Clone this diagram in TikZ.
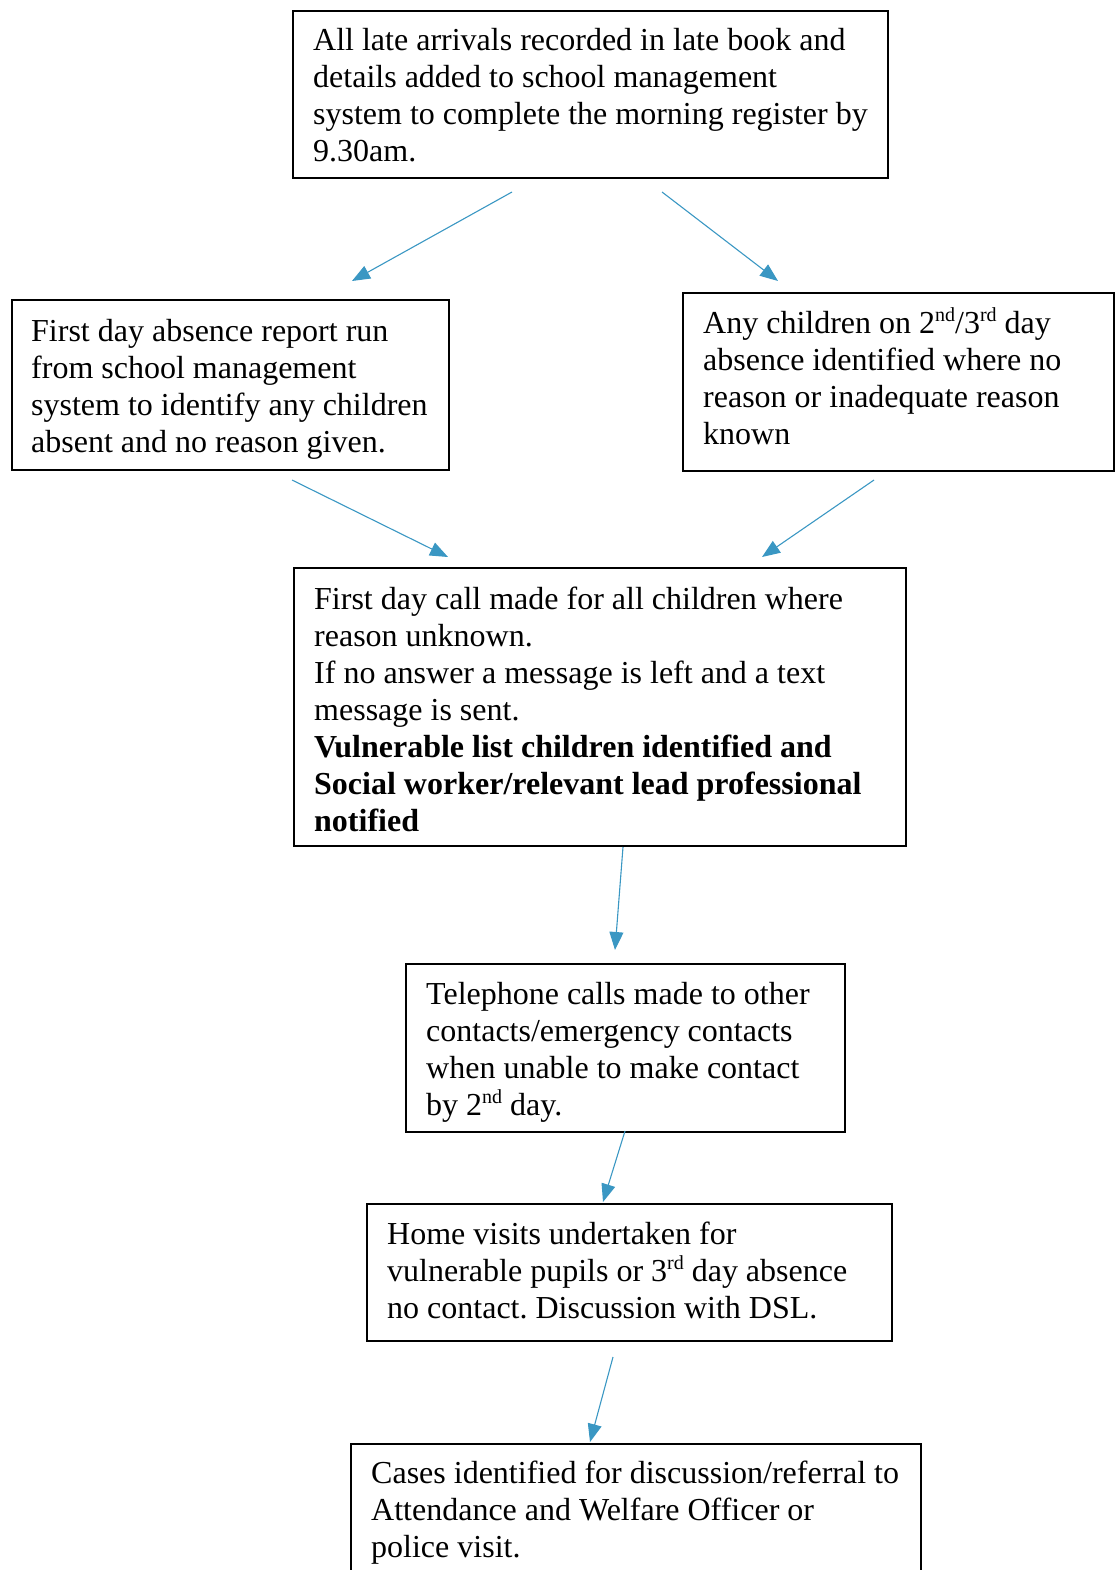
\documentclass[tikz,border=0pt]{standalone}
\usepackage{fontspec}
\setmainfont{Liberation Serif}
\usetikzlibrary{arrows.meta}
\definecolor{arrowblue}{RGB}{58,151,195}
\tikzset{
  box/.style={draw=black, line width=1.8pt, inner sep=0pt, anchor=north west},
  txt/.style={inner sep=0pt, anchor=base west, font=\fontsize{32}{37}\selectfont},
  arr/.style={draw=arrowblue, line width=1.1pt, -{Triangle[length=18pt,width=14pt]}}
}
\newcommand{\lines}[1]{\parbox[t]{760pt}{\frenchspacing\raggedright #1}}
\newcommand{\sups}[1]{\raisebox{0.36em}{\fontsize{20}{20}\selectfont #1}}
\begin{document}
\begin{tikzpicture}[x=1pt,y=-1pt]
\useasboundingbox (0,0) rectangle (1115,1570);
% boxes
\node[box, minimum width=595pt, minimum height=167pt] (b1) at (292,10) {};
\node[box, minimum width=437pt, minimum height=170pt] (b2) at (11,299) {};
\node[box, minimum width=431pt, minimum height=178pt] (b3) at (682,292) {};
\node[box, minimum width=612pt, minimum height=278pt] (b4) at (293,567) {};
\node[box, minimum width=439pt, minimum height=168pt] (b5) at (405,963) {};
\node[box, minimum width=525pt, minimum height=137pt] (b6) at (366,1203) {};
\node[box, minimum width=570pt, minimum height=160pt] (b7) at (350,1443) {};
% texts
\node[txt] (t1) at (313,51) {\lines{All late arrivals recorded in late book and\\details added to school management\\system to complete the morning register by\\9.30am.}};
\node[txt] (t2) at (31,341) {\lines{First day absence report run\\from school management\\system to identify any children\\absent and no reason given.}};
\node[txt] (t3) at (703,333) {\lines{Any children on 2\sups{nd}/3\sups{rd} day\\absence identified where no\\reason or inadequate reason\\known}};
\node[txt] (t4) at (314,609) {\lines{First day call made for all children where\\reason unknown.\\If no answer a message is left and a text\\message is sent.\\\textbf{Vulnerable list children identified and}\\\textbf{Social worker/relevant lead professional}\\\textbf{notified}}};
\node[txt] (t5) at (426,1004) {\lines{Telephone calls made to other\\contacts/emergency contacts\\when unable to make contact\\by 2\sups{nd} day.}};
\node[txt] (t6) at (387,1244) {\lines{Home visits undertaken for\\vulnerable pupils or 3\sups{rd} day absence\\no contact. Discussion with DSL.}};
\node[txt] (t7) at (371,1483) {\lines{Cases identified for discussion/referral to\\Attendance and Welfare Officer or\\police visit.}};
% arrow end points
\coordinate (a1s) at (512,192); \coordinate (a1e) at (352,281);
\coordinate (a2s) at (662,192); \coordinate (a2e) at (778,281);
\coordinate (a3s) at (292,480); \coordinate (a3e) at (448,557);
\coordinate (a4s) at (874,480); \coordinate (a4e) at (762,557);
\coordinate (a5s) at (623,847); \coordinate (a5e) at (615,950);
\coordinate (a6s) at (625,1131); \coordinate (a6e) at (603,1202);
\coordinate (a7s) at (613,1357); \coordinate (a7e) at (590,1442);
\draw[arr] (a1s) -- (a1e);
\draw[arr] (a2s) -- (a2e);
\draw[arr] (a3s) -- (a3e);
\draw[arr] (a4s) -- (a4e);
\draw[arr] (a5s) -- (a5e);
\draw[arr] (a6s) -- (a6e);
\draw[arr] (a7s) -- (a7e);
\end{tikzpicture}
\end{document}
